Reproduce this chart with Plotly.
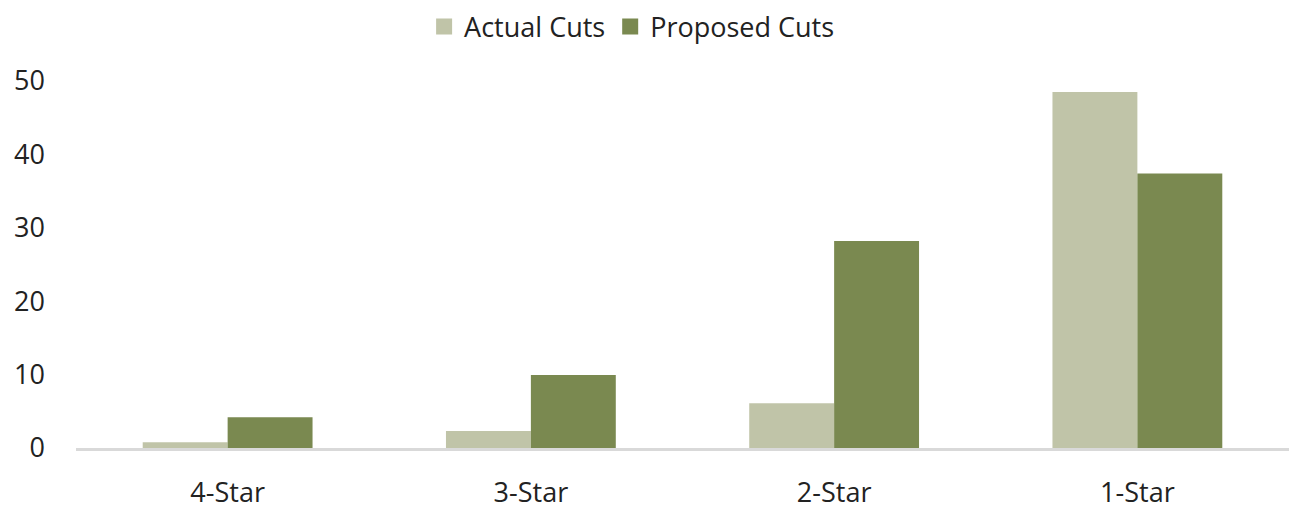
import plotly.graph_objects as go

categories = ["4-Star", "3-Star", "2-Star", "1-Star"]
actual_cuts = [0.8, 2.3, 6.1, 48.5]
proposed_cuts = [4.2, 9.95, 28.2, 37.4]
series_names = ["Actual Cuts", "Proposed Cuts"]
y_ticks = [0, 10, 20, 30, 40, 50]

c_actual = "#C0C4A8"
c_proposed = "#7A8950"
font_family = "Open Sans"
text_color = "#222222"

fig = go.Figure()
fig.add_trace(go.Bar(x=categories, y=actual_cuts, name=series_names[0],
                     marker=dict(color=c_actual, line=dict(width=0)), showlegend=False))
fig.add_trace(go.Bar(x=categories, y=proposed_cuts, name=series_names[1],
                     marker=dict(color=c_proposed, line=dict(width=0)), showlegend=False))
# legend entries with larger square swatches
for nm, col in zip(series_names, [c_actual, c_proposed]):
    fig.add_trace(go.Scatter(x=[None], y=[None], mode="markers", name=nm,
                             marker=dict(symbol="square", size=17, color=col),
                             showlegend=True))

fig.update_layout(
    width=1289, height=510,
    margin=dict(l=76, r=0, t=81, b=62),
    paper_bgcolor="white", plot_bgcolor="white",
    barmode="group", bargap=0.44, bargroupgap=0,
    font=dict(family=font_family, size=27, color=text_color),
    legend=dict(orientation="h", xref="container", yref="container",
                x=0.49, xanchor="center", y=1 - 27 / 510, yanchor="middle",
                font=dict(size=27, color=text_color), itemsizing="trace",
                bgcolor="rgba(0,0,0,0)"),
    xaxis=dict(showgrid=False, showline=True, linecolor="#D9D9D9", linewidth=2.5,
               ticks="", ticklabelstandoff=19, tickfont=dict(size=27), automargin=False),
    yaxis=dict(range=[0, 50], tickvals=y_ticks, showgrid=False, zeroline=False,
               showline=False, ticks="", ticklabelstandoff=30, tickfont=dict(size=27),
               automargin=False),
)

fig.write_html("out.html")
